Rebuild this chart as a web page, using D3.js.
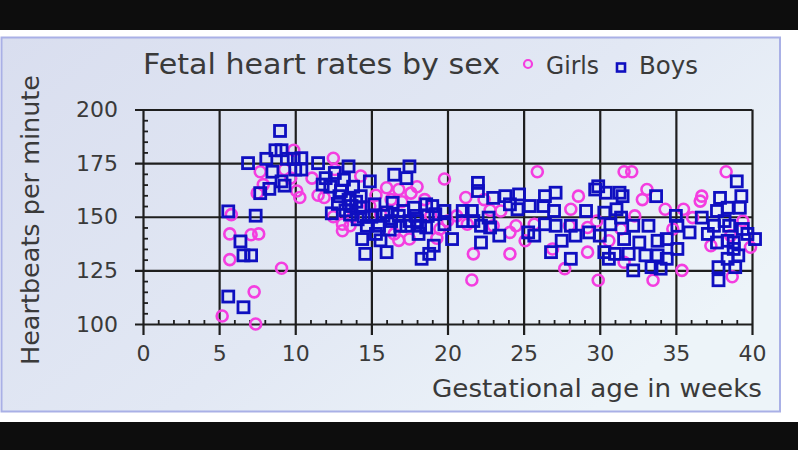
<!DOCTYPE html>
<html><head><meta charset="utf-8">
<script src="https://cdn.jsdelivr.net/npm/d3@7"></script>
<style>body{margin:0;background:#000;}svg{display:block;}</style>
</head><body>
<script>
// ---- data ----
const girlsWeek = [5.2,7.4,7.3,5.7,5.7,7.1,7.6,9.1,5.8,7.5,7.9,7.7,9.3,9.9,9.7,10.1,
 12.5,10.3,11.1,11.9,12.6,14.3,13.1,13.1,13.6,16.0,16.8,18.0,17.6,16.3,16.8,17.5,19.8,20.6,21.2,21.7,21.6,22.4,23.0,23.5,24.1,24.1,24.5,25.1,25.7,25.9,21.3,19.5,18.9,15.6,14.9,
 15.3,17.0,18.5,19.3,16.5,20.0,22.8,12.5,13.8,11.5,
 31.6,32.1,28.6,28.1,29.2,27.7,29.9,33.1,32.8,32.3,31.4,29.8,30.6,31.6,33.5,34.3,35.5,34.8,35.4,36.1,36.7,36.6,38.3,38.7,39.4,39.9,38.6,37.3,28.0,29.2,26.9];
const girlsBpm = [103.7,100,115,130,142,141.6,142,126,151,161,165,171,172,181,168,162,
 177.3,159,168,159,172,169,146.5,143.5,145.8,163.5,162.7,164,161,158,139,139.6,167.6,150.4,159,132.7,120.5,158,145.8,152.7,132.7,142.7,145.8,138.8,146.5,171,146.5,144.3,150.4,151.2,155,
 160,157,158,140,142,148,153,150,150,160,
 171,171,159.6,153.5,133.5,125.8,120.4,162.7,158,150.4,144.3,148,138.8,128.8,120.4,153.5,153.5,144.3,125,149.6,159.6,157.3,171,122,148,135.8,141.2,136.5,145.8,145,135];

const boysWeek = [9.0,8.7,9.1,8.1,9.45,9.9,6.9,8.5,10.0,9.1,8.3,7.7,9.3,5.6,7.4,6.4,6.6,7.1,5.6,6.6,
 10.4,10.4,11.5,12.3,13.5,13.2,12.6,13.8,14.9,12.9,14.3,13.5,12.4,13.7,14.3,13.6,14.1,15.2,14.4,14.6,15.6,16.0,14.7,15.5,15.8,16.5,17.3,17.5,16.4,16.0,16.8,17.1,16.9,17.3,18.2,17.9,17.8,18.6,19.0,19.2,18.7,18.1,18.6,19.1,18.8,18.3,19.8,19.8,20.3,21.0,21.0,21.6,22.0,22.0,21.7,22.2,22.2,22.7,22.8,23.4,23.0,23.8,24.1,24.7,24.6,25.4,25.7,
 11.8,12.0,13.0,14.0,13.3,12.8,15.0,14.5,15.3,16.3,17.5,18.0,16.2,
 25.3,26.4,27.1,26.3,27.0,26.4,27.1,28.1,27.5,26.8,28.1,28.4,29.1,29.3,29.7,29.9,30.4,31.3,31.5,30.3,31.1,30.0,30.7,31.4,30.3,30.6,31.0,31.6,32.2,32.6,31.9,32.2,33.0,33.2,33.7,33.8,33.4,34.0,33.8,34.4,34.4,35.0,35.1,35.1,35.9,36.7,37.1,37.5,37.7,37.9,37.7,37.8,37.8,38.4,38.5,38.4,38.4,38.9,38.8,39.0,39.3,39.2,39.4,39.1,39.7,40.2,38.8,38.2];
const boysBpm = [190,181,181,177,177,177,175,171,172,166.5,163,161,164.5,152.5,150.5,138.5,132,132,112.8,107.8,
 177.3,172,175,164,173.5,167.3,170.4,164,166.5,159.6,159.6,158,151.6,155,154.2,151,148.8,155.8,139.6,132.7,139,133.5,145.8,145.8,150.4,169.6,168,173.5,156.5,152,150.4,152.7,145.8,145.8,145.8,150.4,154.2,155.8,155,151.2,150.4,142,145,136.5,132.7,130.4,146.5,152.7,139.6,152.7,148,152.7,165.8,162,148,138,145.8,149.6,145,141.2,158.8,159.6,155.8,160.4,153.5,155,141.2,
 165,168,162,157,153,156,150,150,142,148,148,148,144,
 142.7,159.6,161.2,155,152.7,146.5,145.8,145.8,138.8,133.5,130.4,141.2,152.7,142.7,162.7,164.2,161.2,161.2,159.6,151.9,153.5,141.2,146.5,149.6,133.5,130.4,132.7,139.6,145.8,138,132.7,125,132,145.8,159.6,132,126.5,125.8,138.8,139.6,130.4,150.4,145.8,135,142.7,149.6,142,145.8,152.7,158.8,138,126.5,120.4,154.2,145.8,138.8,130.4,126.5,135,166.5,159.6,154.2,144.3,132,142,139.6,138,148];

const xTicks = [0,5,10,15,20,25,30,35,40];
const yTicks = [100,125,150,175,200];
const titleText = "Fetal heart rates by sex";
const seriesNames = ["Girls","Boys"];
const xLabel = "Gestational age in weeks";
const yLabel = "Heartbeats per minute";

// ---- drawing ----
const W = 798, H = 450;
const svg = d3.select("body").append("svg").attr("width", W).attr("height", H);
const defs = svg.append("defs");
const grad = defs.append("linearGradient").attr("id","bg").attr("x1","0").attr("y1","0").attr("x2","1").attr("y2","0.6");
grad.append("stop").attr("offset","0").attr("stop-color","#d9deef");
grad.append("stop").attr("offset","0.6").attr("stop-color","#e2e8f4");
grad.append("stop").attr("offset","1").attr("stop-color","#edf4f9");

svg.append("rect").attr("x",0).attr("y",0).attr("width",W).attr("height",H).attr("fill","#0d0d0d");
svg.append("rect").attr("x",0).attr("y",30).attr("width",W).attr("height",392).attr("fill","#ffffff");
svg.append("rect").attr("x",1.5).attr("y",37.5).attr("width",778.5).attr("height",374)
  .attr("fill","url(#bg)").attr("stroke","#a9b0e6").attr("stroke-width",2);

const x = d3.scaleLinear().domain([0,40]).range([143,752]);
const y = d3.scaleLinear().domain([100,200]).range([324,109.5]);

const ink = "#1e1e1e";
const textCol = "#3a3a3a";
const tickFont = "'DejaVu Sans', sans-serif";

// horizontal gridlines + y labels
const gy = svg.append("g").attr("transform",`translate(${x(40)},0)`)
  .call(d3.axisLeft(y).tickValues(yTicks).tickSize(x(40)-135).tickPadding(17));
gy.select(".domain").remove();
gy.selectAll("line").attr("stroke",ink).attr("stroke-width",2.2);
gy.selectAll("text").attr("font-family",tickFont).attr("font-size",22).attr("fill",textCol);

// vertical gridlines + x labels
const gx = svg.append("g").attr("transform",`translate(0,${y(200)})`)
  .call(d3.axisBottom(x).tickValues(xTicks).tickSize(335-y(200)).tickPadding(10));
gx.select(".domain").remove();
gx.selectAll("line").attr("stroke",ink).attr("stroke-width",2.2);
gx.selectAll("text").attr("font-family",tickFont).attr("font-size",22).attr("fill",textCol);

// minor ticks
const minorY = d3.range(105,200,5).filter(v => v % 25 !== 0);
const my = svg.append("g").attr("transform",`translate(${x(0)},0)`)
  .call(d3.axisRight(y).tickValues(minorY).tickSize(5).tickFormat(""));
my.select(".domain").remove();
my.selectAll("line").attr("stroke",ink).attr("stroke-width",1.8);

const minorX = d3.range(1,40,1).filter(v => v % 5 !== 0);
const mx = svg.append("g").attr("transform",`translate(0,${y(100)})`)
  .call(d3.axisTop(x).tickValues(minorX).tickSize(4).tickFormat(""));
mx.select(".domain").remove();
mx.selectAll("line").attr("stroke",ink).attr("stroke-width",1.8);

// points
const girlColor = "#f43ee0", boyColor = "#0f0fc0";
const girls = girlsWeek.map((w,i)=>({w, b: girlsBpm[i]}));
const boys = boysWeek.map((w,i)=>({w, b: boysBpm[i]}));

svg.append("g").selectAll("circle").data(girls).join("circle")
  .attr("cx", d=>x(d.w)).attr("cy", d=>y(d.b)).attr("r",5.5)
  .attr("fill","none").attr("stroke",girlColor).attr("stroke-width",2.6);

const s = 11;
svg.append("g").selectAll("rect").data(boys).join("rect")
  .attr("x", d=>x(d.w)-s/2).attr("y", d=>y(d.b)-s/2).attr("width",s).attr("height",s)
  .attr("fill","none").attr("stroke",boyColor).attr("stroke-width",2.8);

// title & legend
const labelFont = "'DejaVu Sans', sans-serif";
svg.append("text").attr("x",143).attr("y",74).attr("font-family",labelFont).attr("font-size",29)
  .attr("fill",textCol).attr("textLength",357).attr("lengthAdjust","spacingAndGlyphs").text(titleText);

svg.append("circle").attr("cx",528).attr("cy",64).attr("r",4)
  .attr("fill","none").attr("stroke",girlColor).attr("stroke-width",2.2);
svg.append("text").attr("x",546).attr("y",74).attr("font-family",labelFont).attr("font-size",24)
  .attr("fill",textCol).attr("textLength",53).attr("lengthAdjust","spacingAndGlyphs").text(seriesNames[0]);
svg.append("rect").attr("x",617).attr("y",63.5).attr("width",8).attr("height",8)
  .attr("fill","none").attr("stroke",boyColor).attr("stroke-width",2.6);
svg.append("text").attr("x",639).attr("y",74).attr("font-family",labelFont).attr("font-size",24)
  .attr("fill",textCol).attr("textLength",59).attr("lengthAdjust","spacingAndGlyphs").text(seriesNames[1]);

// axis titles
svg.append("text").attr("x",762).attr("y",397).attr("text-anchor","end")
  .attr("font-family",labelFont).attr("font-size",25).attr("fill",textCol)
  .attr("textLength",330).attr("lengthAdjust","spacingAndGlyphs").text(xLabel);

svg.append("text").attr("transform","translate(39,220) rotate(-90)").attr("text-anchor","middle")
  .attr("font-family",labelFont).attr("font-size",25).attr("fill",textCol)
  .attr("textLength",290).attr("lengthAdjust","spacingAndGlyphs").text(yLabel);
</script>
</body></html>
